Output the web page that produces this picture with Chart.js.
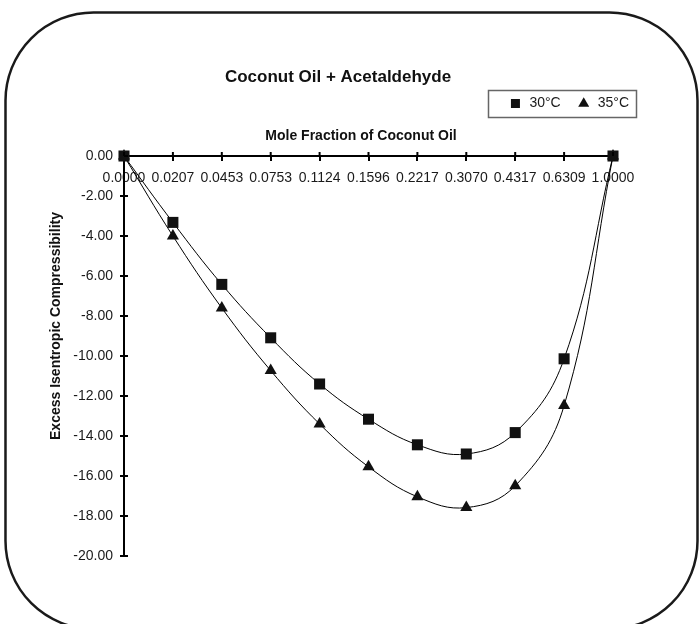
<!DOCTYPE html>
<html>
<head>
<meta charset="utf-8">
<script src="https://cdn.jsdelivr.net/npm/chart.js@4.4.1/dist/chart.umd.min.js"></script>
<style>
html,body{margin:0;padding:0;background:#fff;}
#wrap{width:700px;height:624px;position:relative;}
</style>
</head>
<body>
<div id="wrap"><canvas id="c"></canvas></div>
<script>
// ---- data ----
const chartTitle = 'Coconut Oil + Acetaldehyde';
const xTitle = 'Mole Fraction of Coconut Oil';
const yTitle = 'Excess Isentropic Compressibility';
const moleFractions = ['0.0000','0.0207','0.0453','0.0753','0.1124','0.1596','0.2217','0.3070','0.4317','0.6309','1.0000'];
const series30 = [0, -3.32, -6.42, -9.09, -11.40, -13.16, -14.44, -14.90, -13.83, -10.14, 0];
const series35 = [0, -4.00, -7.60, -10.73, -13.40, -15.54, -17.04, -17.58, -16.49, -12.48, 0];
const seriesNames = ['30°C', '35°C'];
const yMin = -20, yMax = 0, yStep = 2;

Chart.defaults.font.family = '"Liberation Sans", Arial, sans-serif';
Chart.defaults.color = '#1a1a1a';

const decorPlugin = {
  id: 'decor',
  beforeDraw(chart) {
    const ctx = chart.ctx;
    ctx.save();
    ctx.fillStyle = '#fff';
    ctx.fillRect(0, 0, chart.width, chart.height);
    ctx.restore();
  },
  afterDraw(chart) {
    const ctx = chart.ctx;
    ctx.save();
    // rounded frame
    const x0 = 5.5, y0 = 12.5, x1 = 697.5, y1 = 629, r = 88;
    ctx.beginPath();
    ctx.moveTo(x0 + r, y0);
    ctx.lineTo(x1 - r, y0);
    ctx.arcTo(x1, y0, x1, y0 + r, r);
    ctx.lineTo(x1, y1 - r);
    ctx.arcTo(x1, y1, x1 - r, y1, r);
    ctx.lineTo(x0 + r, y1);
    ctx.arcTo(x0, y1, x0, y1 - r, r);
    ctx.lineTo(x0, y0 + r);
    ctx.arcTo(x0, y0, x0 + r, y0, r);
    ctx.closePath();
    ctx.lineWidth = 2.5;
    ctx.strokeStyle = '#1a1a1a';
    ctx.stroke();

    // legend border
    const lg = chart.legend;
    if (lg && lg.legendHitBoxes && lg.legendHitBoxes.length) {
      const hb = lg.legendHitBoxes;
      const first = hb[0], last = hb[hb.length - 1];
      const left = first.left - 20, right = last.left + last.width + 7;
      const cy = first.top + first.height / 2;
      ctx.lineWidth = 1.5;
      ctx.strokeStyle = '#666';
      ctx.strokeRect(Math.round(left) + 0.5, Math.round(cy - 13.5) + 0.5, Math.round(right - left), 27);
    }

    // inward halves of tick marks
    const xs = chart.scales.x, ys = chart.scales.y;
    ctx.strokeStyle = '#000';
    ctx.lineWidth = 2;
    const axisY = ys.getPixelForValue(0);
    xs.ticks.forEach((t, i) => {
      const px = xs.getPixelForTick(i);
      ctx.beginPath();
      ctx.moveTo(px, axisY);
      ctx.lineTo(px, axisY - 4);
      ctx.stroke();
    });
    ys.ticks.forEach((t, i) => {
      const py = ys.getPixelForTick(i);
      ctx.beginPath();
      ctx.moveTo(ys.right, py);
      ctx.lineTo(ys.right + 4, py);
      ctx.stroke();
    });

    // axis titles
    ctx.fillStyle = '#111';
    ctx.font = 'bold 14px "Liberation Sans", Arial, sans-serif';
    ctx.textAlign = 'center';
    ctx.textBaseline = 'middle';
    ctx.fillText(xTitle, 361, 136);
    ctx.translate(56, 326);
    ctx.rotate(-Math.PI / 2);
    ctx.fillText(yTitle, 0, 0);
    ctx.restore();
  }
};

new Chart(document.getElementById('c'), {
  type: 'line',
  data: {
    labels: moleFractions,
    datasets: [
      {
        label: seriesNames[0],
        data: series30,
        borderColor: '#000',
        backgroundColor: '#111',
        borderWidth: 1,
        tension: 0.4,
        pointStyle: 'rect',
        pointRadius: 7.8,
        pointHoverRadius: 7.8,
        pointBackgroundColor: '#111',
        pointBorderColor: '#111',
        pointBorderWidth: 0,
        clip: false
      },
      {
        label: seriesNames[1],
        data: series35,
        borderColor: '#000',
        backgroundColor: '#111',
        borderWidth: 1,
        tension: 0.4,
        pointStyle: 'triangle',
        pointRadius: 7,
        pointHoverRadius: 7,
        pointBackgroundColor: '#111',
        pointBorderColor: '#111',
        pointBorderWidth: 0,
        clip: false
      }
    ]
  },
  options: {
    responsive: true,
    maintainAspectRatio: false,
    animation: false,
    events: [],
    layout: { padding: { top: 68.5, left: 31, right: 55, bottom: 68 } },
    plugins: {
      title: {
        display: true,
        text: chartTitle,
        color: '#111',
        font: { size: 17, weight: 'bold', lineHeight: 1 },
        padding: { top: 0, bottom: -5 }
      },
      legend: {
        display: true,
        position: 'top',
        align: 'end',
        labels: {
          usePointStyle: true,
          boxHeight: 9,
          padding: 16,
          color: '#1a1a1a',
          font: { size: 14 }
        }
      },
      tooltip: { enabled: false }
    },
    scales: {
      x: {
        type: 'category',
        position: { y: 0 },
        offset: false,
        grid: { drawOnChartArea: false, drawTicks: true, tickLength: 4, color: '#000', lineWidth: 2 },
        border: { display: true, color: '#000', width: 2 },
        ticks: { autoSkip: false, maxRotation: 0, minRotation: 0, padding: 10, color: '#1a1a1a', font: { size: 14 } }
      },
      y: {
        type: 'linear',
        position: 'left',
        min: yMin,
        max: yMax,
        grid: { drawOnChartArea: false, drawTicks: true, tickLength: 4, color: '#000', lineWidth: 2 },
        border: { display: true, color: '#000', width: 2 },
        ticks: { stepSize: yStep, padding: 7, color: '#1a1a1a', font: { size: 14 },
          callback: v => Number(v).toFixed(2) },
        afterFit(s) { s.width = 93; }
      },
      xTop: {
        axis: 'x',
        type: 'linear',
        position: 'top',
        display: true,
        grid: { display: false, drawTicks: false },
        border: { display: false },
        ticks: { display: false },
        afterFit(s) { s.height = 35.5; }
      },
      yRight: {
        axis: 'y',
        type: 'linear',
        position: 'right',
        display: true,
        grid: { display: false, drawTicks: false },
        border: { display: false },
        ticks: { display: false },
        afterFit(s) { s.width = 32; }
      }
    }
  },
  plugins: [decorPlugin]
});
</script>
</body>
</html>
